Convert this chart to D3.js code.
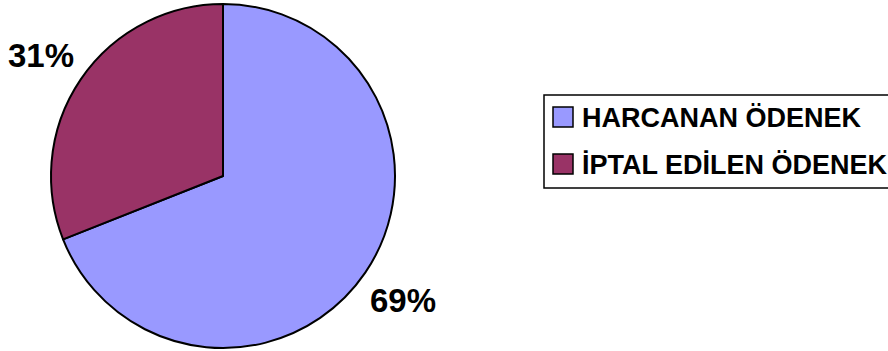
<!DOCTYPE html>
<html>
<head>
<meta charset="utf-8">
<script src="https://cdn.jsdelivr.net/npm/d3@7"></script>
<style>
  body { margin: 0; background: #fff; }
  svg { display: block; font-family: "Liberation Sans", Arial, sans-serif; }
</style>
</head>
<body>
<div id="chart"></div>
<script>
const categories = ["HARCANAN ÖDENEK", "İPTAL EDİLEN ÖDENEK"];
const values = [69, 31];
const labels = ["69%", "31%"];
const colors = ["#9999FF", "#993366"];

const width = 888;
const height = 351;
const cx = 223;
const cy = 176;
const radius = 172;

const svg = d3
  .create("svg")
  .attr("width", width)
  .attr("height", height)
  .attr("viewBox", [0, 0, width, height]);

const data = categories.map((c, i) => ({ name: c, value: values[i], label: labels[i], color: colors[i] }));

const pie = d3.pie().sort(null).value((d) => d.value);
const arc = d3.arc().innerRadius(0).outerRadius(radius);
const arcs = pie(data);

const g = svg.append("g").attr("transform", `translate(${cx},${cy})`);

g.selectAll("path")
  .data(arcs)
  .join("path")
  .attr("d", arc)
  .attr("fill", (d) => d.data.color)
  .attr("stroke", "#000")
  .attr("stroke-width", 2)
  .attr("stroke-linejoin", "round");

// percent labels outside the pie
const labelPos = [
  { x: 370, y: 312 },
  { x: 8, y: 67 }
];
svg
  .append("g")
  .selectAll("text")
  .data(arcs)
  .join("text")
  .attr("x", (d, i) => labelPos[i].x)
  .attr("y", (d, i) => labelPos[i].y)
  .attr("font-size", "33px")
  .attr("font-weight", "bold")
  .attr("fill", "#000")
  .text((d) => d.data.label);

// legend
const legend = svg.append("g");
legend
  .append("rect")
  .attr("x", 544)
  .attr("y", 95)
  .attr("width", 350)
  .attr("height", 93)
  .attr("fill", "#fff")
  .attr("stroke", "#000")
  .attr("stroke-width", 1.5);

const y = d3.scalePoint().domain(categories).range([117, 164]);

const item = legend
  .selectAll("g")
  .data(data)
  .join("g")
  .attr("transform", (d) => `translate(0,${y(d.name)})`);

item
  .append("rect")
  .attr("x", 553)
  .attr("y", -10)
  .attr("width", 20)
  .attr("height", 20)
  .attr("fill", (d) => d.color)
  .attr("stroke", "#000")
  .attr("stroke-width", 1.5);

item
  .append("text")
  .attr("x", 582)
  .attr("y", 10)
  .attr("font-size", "27px")
  .attr("font-weight", "bold")
  .attr("fill", "#000")
  .text((d) => d.name);

document.getElementById("chart").append(svg.node());
</script>
</body>
</html>
